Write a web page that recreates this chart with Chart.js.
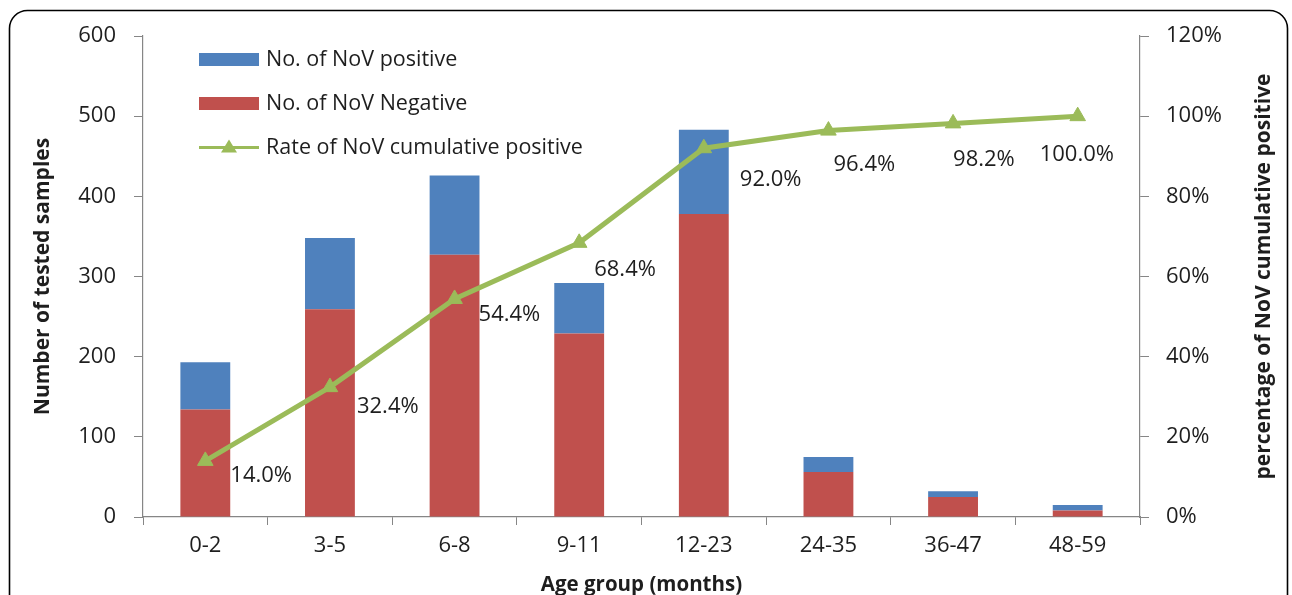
<!DOCTYPE html>
<html>
<head>
<meta charset="utf-8">
<script src="https://cdn.jsdelivr.net/npm/chart.js@4.4.1/dist/chart.umd.min.js"></script>
<style>
  html, body { margin: 0; padding: 0; background: #ffffff; }
  #wrap { width: 1292px; height: 595px; position: relative; }
</style>
</head>
<body>
<div id="wrap"><canvas id="c" width="1292" height="595"></canvas></div>
<script>
// ---- data ----
const categories = ['0-2', '3-5', '6-8', '9-11', '12-23', '24-35', '36-47', '48-59'];
const positiveCounts = [59, 89, 99, 63, 105, 19, 7, 7];
const negativeCounts = [134, 259, 327, 229, 378, 56, 25, 8];
const cumulativeRate = [14.0, 32.4, 54.4, 68.4, 92.0, 96.4, 98.2, 100.0];
const leftTicks = [0, 100, 200, 300, 400, 500, 600];
const rightTicks = [0, 20, 40, 60, 80, 100, 120];
// label nudges (pixels, relative to each point) for the rate labels
const labelNudge = [[25, 15], [27, 20], [24, 16], [15, 27], [36, 32], [5, 34], [0, 36], [-38, 39]];

const FONT = '"Open Sans", "Liberation Sans", sans-serif';
const TEXT = '#1e1e1e';
const AXIS = '#868686';
const BLUE = '#4F81BD';
const RED = '#C0504D';
const GREEN = '#9BBB59';
const RIGHT_TITLE = 'percentage of NoV cumulative positive';

const framePlugin = {
  id: 'frame',
  beforeDraw(chart) {
    const ctx = chart.ctx;
    ctx.save();
    ctx.fillStyle = '#ffffff';
    ctx.fillRect(0, 0, chart.width, chart.height);
    ctx.strokeStyle = '#000000';
    ctx.lineWidth = 1.6;
    ctx.beginPath();
    if (ctx.roundRect) {
      ctx.roundRect(9.5, 10.5, 1278, 700, 18);
    } else {
      ctx.rect(9.5, 10.5, 1278, 700);
    }
    ctx.stroke();
    ctx.restore();
  },
  afterDraw(chart) {
    // right axis title, reading bottom-to-top like the reference
    const ctx = chart.ctx;
    const a = chart.chartArea;
    ctx.save();
    ctx.translate(1264, (a.top + a.bottom) / 2);
    ctx.rotate(-Math.PI / 2);
    ctx.font = 'bold 21px ' + FONT;
    ctx.fillStyle = TEXT;
    ctx.textAlign = 'center';
    ctx.textBaseline = 'middle';
    ctx.fillText(RIGHT_TITLE, 0, 0);
    ctx.restore();
  }
};

const rateLabelPlugin = {
  id: 'rateLabels',
  afterDatasetsDraw(chart) {
    const ctx = chart.ctx;
    const idx = chart.data.datasets.findIndex(d => d.type === 'line');
    const meta = chart.getDatasetMeta(idx);
    ctx.save();
    ctx.font = '22px ' + FONT;
    ctx.fillStyle = TEXT;
    ctx.textAlign = 'left';
    ctx.textBaseline = 'middle';
    meta.data.forEach((pt, i) => {
      const v = chart.data.datasets[idx].data[i];
      const n = labelNudge[i];
      ctx.fillText(v.toFixed(1) + '%', pt.x + n[0], pt.y + n[1]);
    });
    ctx.restore();
  }
};

const legendPlugin = {
  id: 'customLegend',
  afterDraw(chart) {
    const ctx = chart.ctx;
    const ds = chart.data.datasets;
    const order = [2, 1, 0];
    const x0 = 199, w = 60, tx = 266;
    const rows = [59.5, 103.5, 147.5];
    ctx.save();
    ctx.font = '21.5px ' + FONT;
    ctx.textBaseline = 'middle';
    ctx.textAlign = 'left';
    order.forEach((di, r) => {
      const d = ds[di];
      const y = rows[r];
      if (d.type === 'line') {
        ctx.strokeStyle = d.borderColor;
        ctx.lineWidth = 3;
        ctx.beginPath();
        ctx.moveTo(x0, y);
        ctx.lineTo(x0 + w, y);
        ctx.stroke();
        ctx.fillStyle = d.borderColor;
        ctx.beginPath();
        ctx.moveTo(x0 + w / 2, y - 8);
        ctx.lineTo(x0 + w / 2 + 8, y + 5);
        ctx.lineTo(x0 + w / 2 - 8, y + 5);
        ctx.closePath();
        ctx.fill();
      } else {
        ctx.fillStyle = d.backgroundColor;
        ctx.fillRect(x0, y - 6.5, w, 13);
      }
      ctx.fillStyle = TEXT;
      ctx.fillText(d.label, tx, y);
    });
    ctx.restore();
  }
};

new Chart(document.getElementById('c'), {
  data: {
    labels: categories,
    datasets: [
      {
        type: 'line',
        label: 'Rate of NoV cumulative positive',
        data: cumulativeRate,
        yAxisID: 'y1',
        borderColor: GREEN,
        backgroundColor: GREEN,
        borderWidth: 5,
        pointStyle: 'triangle',
        pointRadius: 9,
        pointBackgroundColor: GREEN,
        pointBorderColor: GREEN,
        pointBorderWidth: 1,
        tension: 0,
        order: 0
      },
      {
        type: 'bar',
        label: 'No. of NoV Negative',
        data: negativeCounts,
        backgroundColor: RED,
        borderWidth: 0,
        stack: 's',
        yAxisID: 'y',
        order: 1,
        barPercentage: 0.4,
        categoryPercentage: 1.0
      },
      {
        type: 'bar',
        label: 'No. of NoV positive',
        data: positiveCounts,
        backgroundColor: BLUE,
        borderWidth: 0,
        stack: 's',
        yAxisID: 'y',
        order: 1,
        barPercentage: 0.4,
        categoryPercentage: 1.0
      }
    ]
  },
  options: {
    responsive: false,
    animation: false,
    events: [],
    layout: { padding: { top: 36, left: 0, right: 0, bottom: 0 } },
    plugins: {
      legend: { display: false },
      tooltip: { enabled: false },
      title: { display: false }
    },
    scales: {
      x: {
        stacked: true,
        offset: true,
        afterFit(s) { s.height = 78; },
        grid: { display: true, drawOnChartArea: false, drawTicks: true, tickLength: 8, color: AXIS, offset: true },
        border: { display: true, color: AXIS, width: 1.2 },
        ticks: { color: TEXT, font: { family: FONT, size: 22 }, padding: 8, maxRotation: 0 },
        title: {
          display: true,
          text: 'Age group (months)',
          color: TEXT,
          font: { family: FONT, size: 20.5, weight: 'bold', lineHeight: 1.0 },
          padding: { top: 0, bottom: 0 }
        }
      },
      y: {
        position: 'left',
        stacked: true,
        min: leftTicks[0],
        max: leftTicks[leftTicks.length - 1],
        afterFit(s) { s.width = 143; },
        afterBuildTicks(s) { s.ticks = leftTicks.map(v => ({ value: v })); },
        grid: { display: true, drawOnChartArea: false, drawTicks: true, tickLength: 9, color: AXIS },
        border: { display: true, color: AXIS, width: 1.2 },
        ticks: { color: TEXT, font: { family: FONT, size: 22 }, padding: 18 },
        title: {
          display: true,
          text: 'Number of tested samples',
          color: TEXT,
          font: { family: FONT, size: 21, weight: 'bold', lineHeight: 1.2 },
          padding: { top: 30, bottom: 0 }
        }
      },
      y1: {
        position: 'right',
        min: rightTicks[0],
        max: rightTicks[rightTicks.length - 1],
        afterFit(s) { s.width = 152; },
        afterBuildTicks(s) { s.ticks = rightTicks.map(v => ({ value: v })); },
        grid: { display: true, drawOnChartArea: false, drawTicks: true, tickLength: 9, color: AXIS },
        border: { display: true, color: AXIS, width: 1.2 },
        ticks: { color: TEXT, font: { family: FONT, size: 22 }, padding: 17, callback: v => v + '%' },
        title: { display: false }
      }
    }
  },
  plugins: [framePlugin, rateLabelPlugin, legendPlugin]
});
</script>
</body>
</html>
